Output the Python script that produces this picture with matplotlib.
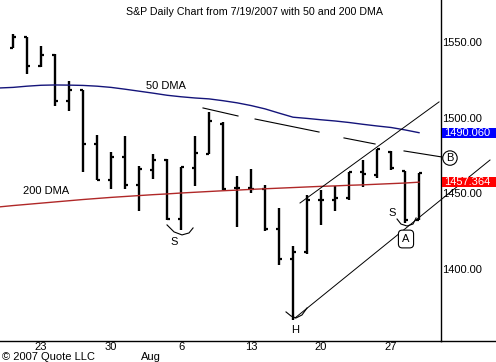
import matplotlib
matplotlib.use("Agg")
import matplotlib.pyplot as plt
from matplotlib.lines import Line2D
from matplotlib.patches import Rectangle
import matplotlib.transforms as mtransforms
import numpy as np

plt.rcParams['font.family'] = ['Liberation Sans', 'DejaVu Sans']

# daily OHLC, S&P 500 from 7/19/2007 (one row per trading day)
dates = ["7/19", "7/20", "7/23", "7/24", "7/25", "7/26", "7/27", "7/30", "7/31",
         "8/1", "8/2", "8/3", "8/6", "8/7", "8/8", "8/9", "8/10", "8/13", "8/14",
         "8/15", "8/16", "8/17", "8/20", "8/21", "8/22", "8/23", "8/24", "8/27",
         "8/28", "8/29"]
opens = [1546.1, 1553.1, 1534.1, 1541.6, 1511.0, 1518.1, 1482.4, 1458.9, 1473.9,
         1455.2, 1465.5, 1472.2, 1433.0, 1467.0, 1476.2, 1496.0, 1453.4, 1453.4,
         1452.9, 1426.2, 1406.6, 1411.3, 1445.9, 1445.6, 1447.0, 1464.1, 1462.3,
         1477.6, 1464.8, 1432.6]
highs = [1555.4, 1553.2, 1547.2, 1542.2, 1524.5, 1518.5, 1488.7, 1477.3, 1488.0,
         1467.8, 1476.2, 1472.6, 1467.1, 1488.0, 1503.5, 1496.9, 1461.2, 1466.0,
         1455.6, 1440.2, 1415.2, 1449.0, 1452.3, 1455.0, 1464.4, 1472.2, 1479.3,
         1477.7, 1464.9, 1463.4]
lows = [1546.2, 1529.0, 1533.3, 1508.0, 1504.6, 1463.8, 1458.5, 1452.8, 1452.8,
        1438.4, 1459.4, 1432.5, 1425.8, 1455.0, 1476.0, 1452.3, 1428.0, 1450.1,
        1425.4, 1402.6, 1366.2, 1410.0, 1429.1, 1438.0, 1445.7, 1454.5, 1460.1,
        1465.6, 1430.7, 1432.5]
closes = [1553.1, 1534.1, 1541.6, 1511.0, 1518.1, 1482.7, 1459.0, 1473.9, 1455.3,
          1465.8, 1472.2, 1433.1, 1467.7, 1476.7, 1497.5, 1453.1, 1453.6, 1452.9,
          1426.5, 1406.7, 1411.3, 1445.9, 1445.6, 1447.1, 1464.1, 1462.5, 1479.2,
          1466.8, 1432.4, 1463.2]

# moving averages, starting one day before the first bar
ma50 = [1519.6, 1520.0, 1520.8, 1521.4, 1521.6, 1521.5, 1521.3, 1520.8, 1520.0,
        1518.8, 1517.5, 1516.2, 1514.8, 1513.8, 1513.0, 1512.4, 1511.2, 1509.8,
        1508.0, 1505.8, 1503.0, 1500.3, 1499.5, 1498.6, 1497.8, 1496.8, 1495.6,
        1494.5, 1493.5, 1491.9, 1490.06]
ma200 = [1441.0, 1441.9, 1442.7, 1443.5, 1444.3, 1445.1, 1445.9, 1446.6, 1447.3,
         1447.9, 1448.5, 1449.1, 1449.6, 1450.2, 1450.7, 1451.2, 1451.7, 1452.1,
         1452.6, 1453.0, 1453.4, 1453.8, 1454.2, 1454.6, 1454.9, 1455.3, 1455.6,
         1456.0, 1456.4, 1456.8, 1457.364]

tick_pos = [2, 7, 12, 17, 22, 27]
tick_labels = ["23", "30", "6", "13", "20", "27"]
price_ticks = [1400, 1450, 1500, 1550]

# hand drawn annotations (day index, price)
resist_segs = [([13.57, 16.07], [1506.4, 1501.1]),
               ([17.29, 21.86], [1499.1, 1490.5]),
               ([23.64, 25.86], [1486.6, 1482.6]),
               ([27.93, 30.64], [1478.0, 1474.0])]
upper_chan = ([20.5, 30.43], [1443.6, 1510.4])
lower_chan = ([20.14, 34.07], [1367.6, 1472.0])
arc_s1 = ([11.0, 11.5, 12.07, 12.57, 12.86], [1429.1, 1424.5, 1422.5, 1423.8, 1427.1])
arc_h = ([19.5, 19.86, 20.21, 20.64, 21.0], [1371.6, 1368.9, 1367.6, 1369.6, 1374.2])
arc_s2 = ([27.43, 27.71, 28.14, 28.57, 28.79], [1433.0, 1429.7, 1428.4, 1429.7, 1433.7])

W, H = 496, 362
fig = plt.figure(figsize=(W / 100, H / 100), dpi=100)
ax = fig.add_axes([0, 21 / H, 441 / W, 341 / H])

x = np.arange(len(dates))
ax.vlines(x, lows, highs, color="black", lw=1.7)
ax.hlines(opens, x - 0.24, x, color="black", lw=1.6)
ax.hlines(closes, x, x + 0.24, color="black", lw=1.6)

xm = np.arange(-1, len(dates))
ax.plot(xm, ma50, color="#14147a", lw=1.0)
ax.plot(xm, ma200, color="#b02828", lw=1.0)

for sx, sy in resist_segs:
    ax.plot(sx, sy, color="black", lw=0.8, clip_on=False)
ax.plot(*upper_chan, color="black", lw=0.7, clip_on=False)
ax.plot(*lower_chan, color="black", lw=0.7, clip_on=False)
for a in (arc_s1, arc_h, arc_s2):
    ax.plot(*a, color="black", lw=0.8)

ax.text(11.5, 1417.8, "S", fontsize=8, ha="center", va="center")
ax.text(20.14, 1359.7, "H", fontsize=8, ha="center", va="center")
ax.text(27.07, 1437.0, "S", fontsize=8, ha="center", va="center")
ax.text(28.07, 1419.8, "A", fontsize=8, ha="center", va="center",
        bbox=dict(boxstyle="round,pad=0.35", fc="white", ec="black", lw=0.8))
ax.text(31.21, 1473.3, "B", fontsize=8, ha="center", va="center", clip_on=False,
        bbox=dict(boxstyle="circle,pad=0.2", fc="white", ec="black", lw=0.8), zorder=5)

ax.text(9.5, 1520.9, "50 DMA", fontsize=8, ha="left", va="center")
ax.text(0.71, 1451.5, "200 DMA", fontsize=8, ha="left", va="center")

ax.set_xlim(-0.93, 30.57)
ax.set_ylim(1352.4, 1577.75)
ax.set_xticks(tick_pos)
ax.set_xticklabels(tick_labels)
ax.yaxis.tick_right()
ax.set_yticks(price_ticks)
ax.set_yticklabels(["%.2f" % p for p in price_ticks])
ax.tick_params(axis="both", length=0, labelsize=8)
ax.tick_params(axis="x", pad=1)
ax.tick_params(axis="y", pad=1)
for s in ("top", "left"):
    ax.spines[s].set_visible(False)
for s in ("right", "bottom"):
    ax.spines[s].set_linewidth(1.0)

# last value boxes on the price axis
trans = mtransforms.blended_transform_factory(ax.transAxes, ax.transData)
for val, fc in ((ma50[-1], "#0000ff"), (ma200[-1], "#ff0000")):
    ax.add_patch(Rectangle((1.003, val - 3.3), 55 / 441, 6.6, transform=trans,
                           fc=fc, ec="none", clip_on=False, zorder=6))
ax.text(1.008, ma50[-1], "%.3f" % ma50[-1], transform=trans, color="white",
        fontsize=8, va="center", ha="left", zorder=7)
ax.text(1.008, ma200[-1], "%.3f" % ma200[-1], transform=trans, color="white",
        fontsize=8, va="center", ha="left", zorder=7)

fig.add_artist(Line2D([441 / W, 1], [21 / H, 21 / H], color="black", lw=1.0))
fig.text(254 / W, 1 - 12 / H, "S&P Daily Chart from 7/19/2007 with 50 and 200 DMA",
         fontsize=7.7, ha="center", va="center")
fig.text(2 / W, 1 - 357 / H, "\u00a9 2007 Quote LLC", fontsize=8, ha="left", va="center")
fig.text(151 / W, 1 - 357 / H, "Aug", fontsize=8, ha="center", va="center")

fig.savefig("out.png", dpi=100)
